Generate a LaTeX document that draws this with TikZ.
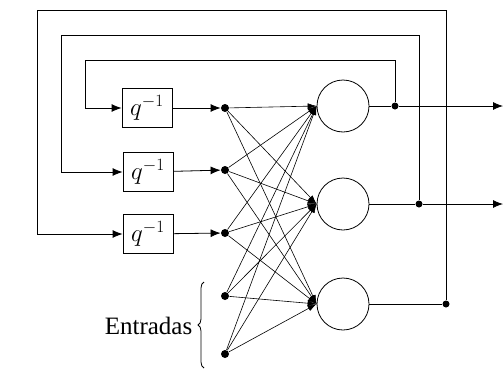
\documentclass[tikz,border=0pt]{standalone}
\usepackage{fontspec}
\setmainfont{Liberation Serif}
\usepackage{tikz}
\usetikzlibrary{arrows.meta,decorations.pathreplacing}

\begin{document}
\begin{tikzpicture}[
    x=1pt, y=-1pt,
    line width=0.8pt,
    delay/.style={draw, minimum width=50pt, minimum height=39pt, inner sep=0pt,
                  font=\fontsize{25}{27}\selectfont},
    dot/.style={circle, fill, minimum size=8pt, inner sep=0pt},
    neuron/.style={draw, circle, minimum size=52pt, inner sep=0pt},
    arrow/.style={-{Latex[length=10pt,width=8pt]}},
    link/.style={-{Latex[length=9pt,width=6pt]}, line width=0.6pt}
  ]
    \useasboundingbox (0,0) rectangle (503,375);
    % delay units
    \node[delay] (d1) at (147,108) {$q^{-1}$};
    \node[delay] (d2) at (148,172) {$q^{-1}$};
    \node[delay] (d3) at (148,234) {$q^{-1}$};
    % inputs
    \node[dot] (x1) at (225,108) {};
    \node[dot] (x2) at (225,170) {};
    \node[dot] (x3) at (225,233) {};
    \node[dot] (x4) at (225,296) {};
    \node[dot] (x5) at (225,354) {};
    % neurons
    \node[neuron] (n1) at (343,106) {};
    \node[neuron] (n2) at (343,204) {};
    \node[neuron] (n3) at (343,304) {};
    % output branch points
    \node[dot, minimum size=7pt] (o1) at (395,106) {};
    \node[dot, minimum size=7pt] (o2) at (419,204) {};
    \node[dot, minimum size=7pt] (o3) at (446,304) {};
    \coordinate (out1) at (503,106);
    \coordinate (out2) at (503,204);
    \coordinate (c1) at (85,60);
    \coordinate (c2) at (61,35);
    \coordinate (c3) at (37,10);
    % feedback loops
    \draw[arrow] (o1) |- (c1) |- (d1);
    \draw[arrow] (o2) |- (c2) |- (d2);
    \draw[arrow] (o3) |- (c3) |- (d3);
    \draw[arrow] (d1) -- (x1);
    \draw[arrow] (d2) -- (x2);
    \draw[arrow] (d3) -- (x3);
    % full connections
    \foreach \i in {1,...,5}
      \foreach \j in {1,2,3}
        \draw[link] (x\i) -- (n\j.west);
    % outputs
    \draw (n1) -- (o1);
    \draw[arrow] (o1) -- (out1);
    \draw (n2) -- (o2);
    \draw[arrow] (o2) -- (out2);
    \draw (n3) -- (o3);
    % inputs label
    \draw[decorate, decoration={brace, amplitude=6pt}] (204,368) -- (204,282);
    \node[anchor=east, font=\fontsize{25}{27}\selectfont] (lab) at (196,326) {Entradas};
\end{tikzpicture}
\end{document}
